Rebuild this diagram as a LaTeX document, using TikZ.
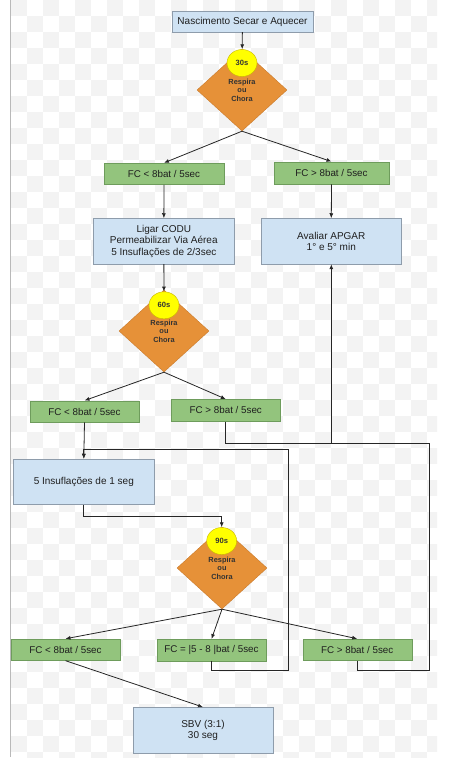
\documentclass[tikz,border=0pt]{standalone}
\usepackage{fontspec}
\setmainfont{Liberation Sans}
\usetikzlibrary{shapes.geometric}
\usetikzlibrary{arrows.meta}
\tikzset{>={Latex[width=4pt,length=5pt]}}
\definecolor{boxblue}{HTML}{CFE2F3}
\definecolor{boxblueline}{HTML}{8E9CAB}
\definecolor{fcgreen}{HTML}{93C47D}
\definecolor{fcgreenline}{HTML}{6E9C5C}
\definecolor{decorange}{HTML}{E69138}
\definecolor{decorangeline}{HTML}{C97A2C}
\definecolor{tyellow}{HTML}{FFFF00}
\definecolor{tyellowline}{HTML}{C8B400}
\definecolor{checkgray}{HTML}{F3F3F3}
\tikzset{
  passo/.style={draw=boxblueline, fill=boxblue, inner sep=0pt, align=center,
    minimum width=141pt, minimum height=45.5pt, text=black!88,
    font=\fontsize{10}{11.4}\selectfont},
  fc/.style={draw=fcgreenline, fill=fcgreen, inner sep=0pt, minimum width=109pt,
    minimum height=21.5pt, text=black!88, font=\fontsize{9.8}{11.4}\selectfont},
  decisao/.style={diamond, draw=decorangeline, fill=decorange, inner sep=0pt,
    minimum width=90pt, minimum height=82pt, align=center, text=black!80,
    font=\bfseries\fontsize{7.4}{8.6}\selectfont},
  tempo/.style={ellipse, draw=tyellowline, fill=tyellow, inner sep=0pt,
    minimum width=30pt, minimum height=27pt, text=black!80,
    font=\bfseries\fontsize{7.6}{8.6}\selectfont},
  liga/.style={draw=black!85, line width=0.8pt},
}

\begin{document}
\begin{tikzpicture}[x=1pt, y=-1pt]

\useasboundingbox (0,0) rectangle (452,760);

%% fundo
\begin{scope}
\clip (11,0) rectangle (437,757);
\foreach \j in {0,2,...,46}{
  \foreach \i in {0,2,...,26}{
    \fill[checkgray] (11+16*\i, 16*\j) rectangle +(16,16);
    \fill[checkgray] (27+16*\i, 16*\j+16) rectangle +(16,16);
  }
}
\end{scope}
\draw[gray!55, line width=1pt] (10.5,0) -- (10.5,757);

%% nascimento
\node[passo, minimum height=21pt] (nasc) at (242.5,21.5) {Nascimento Secar e Aquecer};
\node[decisao] (d30) at (242,90) {Respira\\ou\\Chora};
\node[tempo] (c30) at (242,63) {30s};

\node[fc, minimum width=119.4pt] (fcA1) at (164,173.8) {FC < 8bat / 5sec};
\node[fc, minimum width=114.4pt, minimum height=22.3pt] (fcB1) at (331.5,172.9) {FC > 8bat / 5sec};

\node[passo] (ligar) at (163.8,241.2) {Ligar CODU\\Permeabilizar Via Aérea\\5 Insuflações de 2/3sec};
\node[passo, minimum width=140.7pt] (apgar) at (331.3,241.2) {Avaliar APGAR\\1° e 5° min};

%% 60s
\node[decisao] (d60) at (164,331) {Respira\\ou\\Chora};
\node[tempo] (c60) at (164,305.3) {60s};

\node[fc] (fcA2) at (84.5,411.5) {FC < 8bat / 5sec};
\node[fc, minimum height=22pt] (fcB2) at (225.8,410.3) {FC > 8bat / 5sec};

\node[passo] (insuf) at (83.8,481.7) {5 Insuflações de 1 seg};

%% 90s
\node[decisao] (d90) at (222,568) {Respira\\ou\\Chora};
\node[tempo] (c90) at (221.7,541) {90s};

\node[fc] (fcA3) at (65.5,649.7) {FC < 8bat / 5sec};
\node[fc] (fcE3) at (211.5,650) {FC = |5 - 8 |bat / 5sec};
\node[fc] (fcC3) at (357.2,649.7) {FC > 8bat / 5sec};

\node[passo, minimum width=140.6pt, minimum height=46pt] (sbv) at (203,730.3) {SBV (3:1)\\30 seg};

\coordinate (jB) at (331.3,443);
\coordinate (kC) at (429.3,670);
\coordinate (kE) at (288.3,670);
\coordinate (jE) at (83.8,449);
\coordinate (jI) at (221.7,516.7);

%% ligacoes
\draw[liga, ->] (nasc) -- (c30);
\draw[liga, ->] (d30.south) -- (fcA1.north);
\draw[liga, ->] (d30.south) -- (fcB1.north);
\draw[liga, ->] (fcA1) -- (ligar);
\draw[liga, ->] (fcB1.south) -- (apgar.north);
\draw[liga, ->] (ligar) -- (c60);
\draw[liga, ->] (d60.south) -- (fcA2.north);
\draw[liga, ->] (d60.south) -- (fcB2.north);
\draw[liga, ->] (fcA2.south) -- (insuf.north);
\draw[liga, ->] (fcB2.south) |- (jB) -- (apgar.south);
\draw[liga] (fcC3.south) |- (kC) |- (jB);
\draw[liga, ->] (fcE3.south) |- (kE) |- (jE) -- (insuf.north);
\draw[liga, ->] (insuf.south) |- (jI) -- (c90.north);
\draw[liga, ->] (d90.south) -- (fcA3.north);
\draw[liga, ->] (d90.south) -- (fcE3.north);
\draw[liga, ->] (d90.south) -- (fcC3.north);
\draw[liga, ->] (fcA3.south) -- (sbv.north);

\end{tikzpicture}
\end{document}
